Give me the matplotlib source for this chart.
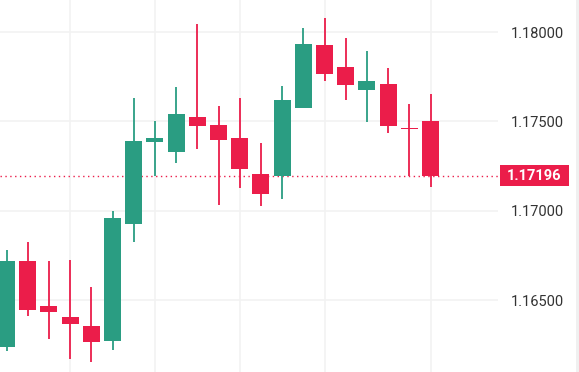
import matplotlib

matplotlib.use("Agg")
matplotlib.rc("font", **{"family": "sans-serif", "sans-serif": ["Roboto", "DejaVu Sans"]})

import matplotlib.pyplot as plt
from matplotlib.patches import Rectangle
import numpy as np

# OHLC values
opens = [1.16238, 1.16718, 1.16466, 1.16404, 1.16354, 1.16271, 1.16927, 1.17386,
         1.17328, 1.17524, 1.17479, 1.17406, 1.17205, 1.17195, 1.17575, 1.17927,
         1.17804, 1.17675, 1.17709, 1.17462, 1.17502]
highs = [1.16780, 1.16824, 1.16718, 1.16724, 1.16572, 1.16999, 1.17631, 1.17502,
         1.17692, 1.18046, 1.17586, 1.17631, 1.17378, 1.17698, 1.18022, 1.18078,
         1.17966, 1.17894, 1.17798, 1.17597, 1.17651]
lows = [1.16215, 1.16411, 1.16281, 1.16171, 1.16154, 1.16221, 1.16826, 1.17197,
        1.17266, 1.17347, 1.17031, 1.17126, 1.17026, 1.17065, 1.17575, 1.17726,
        1.17619, 1.17496, 1.17434, 1.17197, 1.17132]
closes = [1.16718, 1.16445, 1.16432, 1.16367, 1.16267, 1.16960, 1.17390, 1.17406,
          1.17541, 1.17474, 1.17395, 1.17233, 1.17093, 1.17619, 1.17933, 1.17765,
          1.17703, 1.17726, 1.17474, 1.17457, 1.17196]
price_ticks = [1.165, 1.170, 1.175, 1.180]
grid_candles = [3, 7, 11, 15, 20]
last_price = 1.17196

GREEN = "#2a9d82"
RED = "#eb1d4a"

W, H = 579, 372
fig = plt.figure(figsize=(W / 100, H / 100), dpi=100)
ax = fig.add_axes([0, 0, 498 / W, 1])

x = np.arange(len(opens))
for i in x:
    o, h, l, c = opens[i], highs[i], lows[i], closes[i]
    col = GREEN if c >= o else RED
    ax.vlines(i, l, h, color=col, lw=1.3, zorder=3)
    bottom = min(o, c)
    height = max(abs(c - o), 0.00003)
    ax.add_patch(Rectangle((i - 0.4, bottom), 0.8, height, facecolor=col,
                           edgecolor="none", zorder=4))

ax.set_xlim(-0.307, 23.18)
ax.set_ylim(1.16097, 1.18180)

for g in grid_candles:
    ax.axvline(g, color="#f2f2f2", lw=1.2, zorder=0)
for t in price_ticks:
    ax.axhline(t, color="#f2f2f2", lw=1.2, zorder=0)

ax.axhline(last_price, color=RED, lw=1, ls=(0, (1, 2.5)), zorder=2)

ax.yaxis.tick_right()
ax.set_yticks(price_ticks)
ax.set_yticklabels(["{:.5f}".format(t) for t in price_ticks])
ax.tick_params(axis="y", length=0, pad=9, labelsize=10.5, labelcolor="#333333")
ax.set_xticks([])
for s in ax.spines.values():
    s.set_visible(False)

# price label box
half = 10.4 * (1.18180 - 1.16097) / H
trans = ax.get_yaxis_transform()
ax.add_patch(Rectangle((1.004, last_price - half), 69 / 498, 2 * half,
                       transform=trans, facecolor=RED, edgecolor="none",
                       clip_on=False, zorder=5))
ax.text(1.004 + 69 / 498 / 2, last_price, "{:.5f}".format(last_price),
        transform=trans, ha="center", va="center", color="white",
        fontsize=10.5, fontweight="bold", zorder=6)

fig.patches.append(Rectangle((576 / W, 0), 3 / W, 1, transform=fig.transFigure,
                             facecolor="#f0f0f0", edgecolor="none"))

fig.savefig("out.png", dpi=100)
